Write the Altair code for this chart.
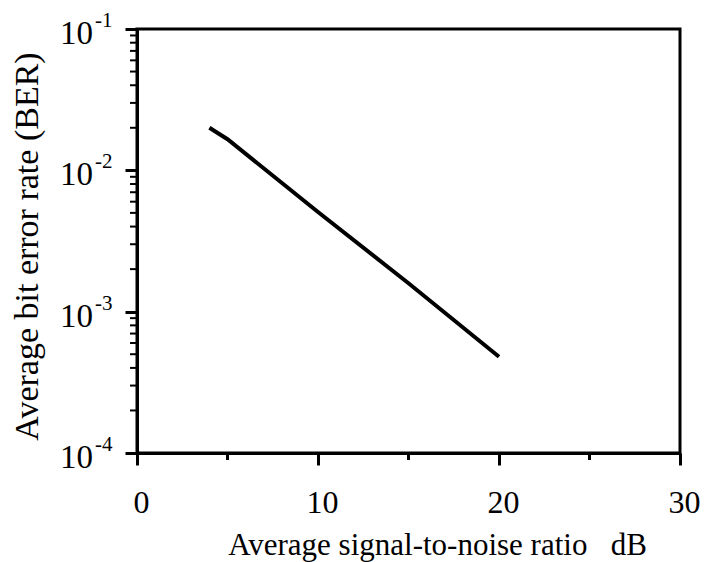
import altair as alt
import pandas as pd

# Data
snr_db = [4, 5, 10, 15, 20]
ber = [0.0200, 0.0166, 0.00507, 0.00159, 0.00048]

y_major = [1e-4, 1e-3, 1e-2, 1e-1]
y_exp = ["-4", "-3", "-2", "-1"]
y_minor = [m * d for d in [1e-4, 1e-3, 1e-2] for m in range(2, 10)]
x_major = [0, 10, 20, 30]
x_minor = [5, 15, 25]

FONT = "Liberation Serif"
W, H = 543, 424

line_df = pd.DataFrame({"snr": snr_db, "ber": ber})
ylab_df = pd.DataFrame({"v": y_major, "base": ["10"] * 4, "exp": y_exp})
yminor_df = pd.DataFrame({"v": y_minor})
xminor_df = pd.DataFrame({"v": x_minor})

xscale = alt.Scale(domain=[0, 30], nice=False)
yscale = alt.Scale(type="log", domain=[1e-4, 1e-1], nice=False)

line = alt.Chart(line_df).mark_line(color="black", strokeWidth=4).encode(
    x=alt.X("snr:Q", scale=xscale,
            axis=alt.Axis(values=x_major, tickSize=12, tickWidth=3, tickColor="black",
                          domainColor="black", domainWidth=3, grid=False,
                          labelFont=FONT, labelFontSize=32, labelColor="black",
                          labelPadding=22, labelOffset=4, labelFlush=False,
                          title="Average signal-to-noise ratio\u00a0\u00a0\u00a0dB",
                          titleFont=FONT, titleFontSize=31, titleFontWeight="normal",
                          titleColor="black", titleX=300, titleY=101,
                          titleBaseline="alphabetic", titleAlign="center")),
    y=alt.Y("ber:Q", scale=yscale,
            axis=alt.Axis(values=y_major, tickSize=12, tickWidth=3, tickColor="black",
                          domainColor="black", domainWidth=3, grid=False, labels=False,
                          title="Average bit error rate (BER)",
                          titleFont=FONT, titleFontSize=34, titleFontWeight="normal",
                          titleColor="black", titleX=-100, titleY=217, titleAngle=270,
                          titleBaseline="alphabetic", titleAlign="center")),
)

ybase = alt.Chart(ylab_df).mark_text(font=FONT, fontSize=33, align="right",
                                     baseline="middle", dy=5, color="black").encode(
    y=alt.Y("v:Q", scale=yscale), x=alt.value(-44), text="base:N")
yexp = alt.Chart(ylab_df).mark_text(font=FONT, fontSize=21, align="left",
                                    baseline="middle", dy=-8, color="black").encode(
    y=alt.Y("v:Q", scale=yscale), x=alt.value(-42), text="exp:N")

yminor = alt.Chart(yminor_df).mark_rule(color="black", strokeWidth=2).encode(
    y=alt.Y("v:Q", scale=yscale), x=alt.value(-7), x2=alt.value(0))
xminor = alt.Chart(xminor_df).mark_rule(color="black", strokeWidth=3).encode(
    x=alt.X("v:Q", scale=xscale), y=alt.value(H), y2=alt.value(H + 7))

chart = alt.layer(line, yminor, xminor, ybase, yexp).properties(
    width=W, height=H,
    autosize=alt.AutoSizeParams(type="none"),
    padding={"left": 137, "top": 29, "right": 24, "bottom": 109},
    background="white",
).configure_view(stroke="black", strokeWidth=3)

chart.save("out.html", embed_options={"renderer": "svg", "actions": False})
